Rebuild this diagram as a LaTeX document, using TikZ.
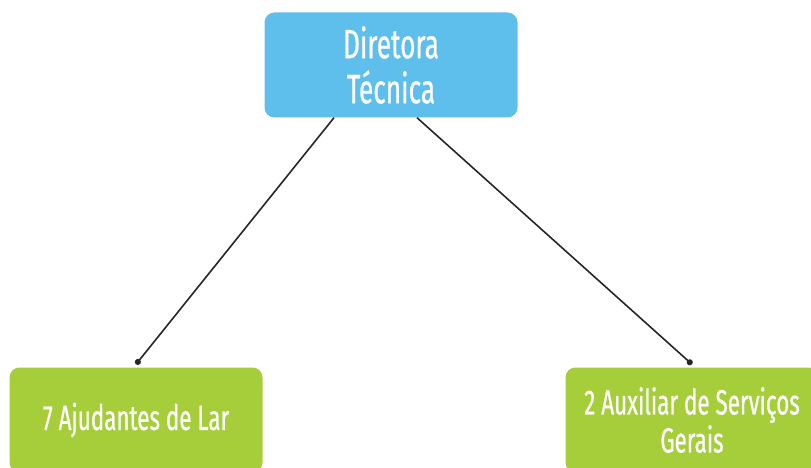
\documentclass[tikz,border=0pt]{standalone}
\usepackage{fontspec}
\setmainfont{Fira Sans}[FakeStretch=0.64, FakeBold=0.6]
\usetikzlibrary{arrows.meta}
\definecolor{chefeblue}{HTML}{5EBFEC}
\definecolor{equipagreen}{HTML}{A6CD3A}
\tikzset{
  cargo/.style={rounded corners=10pt, text=white, align=center,
    minimum width=253pt, minimum height=105pt, inner sep=0pt},
  ligacao/.style={draw=black!85, line width=1.6pt, -{Circle[length=6pt]}}
}
\begin{document}
\begin{tikzpicture}[x=1pt,y=-1pt]
\clip (0,0) rectangle (811,468);
\node [cargo, fill=chefeblue, font=\fontsize{41}{45}\selectfont] (diretora) at (391,65) {Diretora\\Técnica};
\node [cargo, fill=equipagreen, font=\fontsize{35}{38}\selectfont] (ajudantes) at (136,420) {7 Ajudantes de Lar};
\node [cargo, fill=equipagreen, font=\fontsize{35}{38}\selectfont] (auxiliar) at (692,420) {2 Auxiliar de Serviços\\Gerais};

\draw [ligacao] ([xshift=-57pt]diretora.south) -- ([yshift=3pt]ajudantes.north);
\draw [ligacao] ([xshift=26pt]diretora.south) -- ([yshift=3pt]auxiliar.north);
\end{tikzpicture}
\end{document}
